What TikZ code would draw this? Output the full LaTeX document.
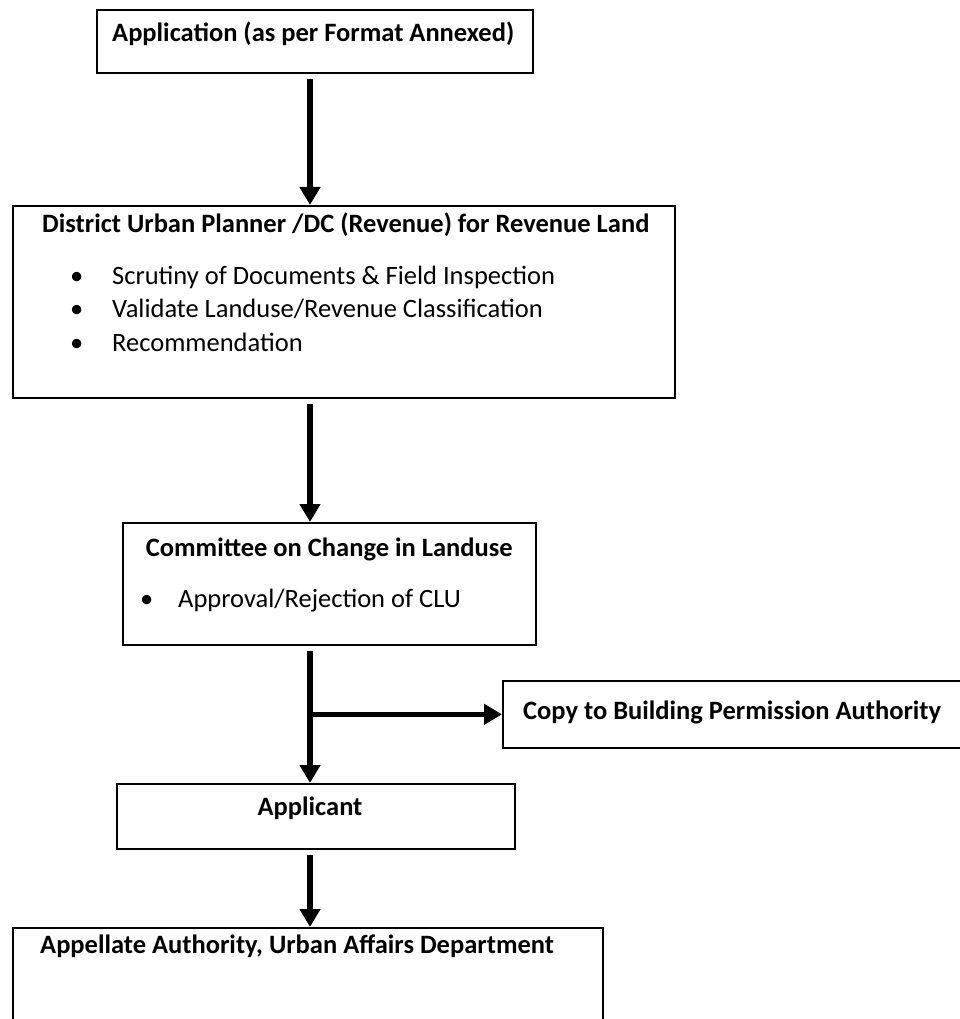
\documentclass[tikz,border=0pt]{standalone}
\usepackage{fontspec}
\setmainfont{Carlito}
\usetikzlibrary{arrows.meta,positioning}
\tikzset{
  box/.style={draw, line width=1.6pt, inner sep=0pt, anchor=north west},
  head/.style={font=\fontsize{26.5}{31}\selectfont\bfseries, inner sep=0pt},
  item/.style={font=\fontsize{26.5}{31}\selectfont, inner sep=0pt, anchor=west},
  flow/.style={line width=5.5pt, -{Triangle[length=18pt,width=20pt]}, shorten <=5pt}
}
\begin{document}
\begin{tikzpicture}[x=1pt, y=-1pt]
  \useasboundingbox (0,0) rectangle (960,1019);
  \fill[white] (0,0) rectangle (960,1019);
  \clip (0,0) rectangle (960,1019);
  \coordinate (ax) at (310,0);% common axis of the down arrows
  % the boxes
  \node[box, minimum width=436pt, minimum height=63pt] (app) at (96,9) {};
  \node[box, minimum width=662pt, minimum height=192pt] (dup) at (12,205) {};
  \node[box, minimum width=413pt, minimum height=122pt] (clu) at (122,522) {};
  \node[box, minimum width=480pt, minimum height=67pt] (copy) at (502,680) {};
  \node[box, minimum width=398pt, minimum height=65pt] (appl) at (116,783) {};
  \node[box, minimum width=590pt, minimum height=120pt] (appe) at (12,927) {};
  % the texts
  \node[head, anchor=west] (apptext) at (112,34) {Application (as per Format Annexed)};
  \node[head, anchor=west] (duptext) at (42,225) {District Urban Planner /DC (Revenue) for Revenue Land};
  \node[item] (dup1) at (70,277) {\makebox[42pt][l]{•}Scrutiny of Documents \& Field Inspection};
  \node[item] (dup2) at (70,309) {\makebox[42pt][l]{•}Validate Landuse/Revenue Classification};
  \node[item] (dup3) at (70,342) {\makebox[42pt][l]{•}Recommendation};
  \node[head] (clutext) at (clu.center |- 0,549) {Committee on Change in Landuse};
  \node[item] (clu1) at (140,601) {\makebox[38pt][l]{•}Approval/Rejection of CLU};
  \node[head, anchor=west] (copytext) at (523,712) {Copy to Building Permission Authority};
  \node[head] (appltext) at (310,808) {Applicant};
  \node[head, anchor=west] (appetext) at (40,946) {Appellate Authority, Urban Affairs Department};
  % the arrows
  \draw[flow] (app.south -| ax) -- (dup.north -| ax);
  \draw[flow] (dup.south -| ax) -- (clu.north -| ax);
  \draw[flow] (clu.south -| ax) -- (appl.north -| ax);
  \draw[flow, shorten <=0pt] (ax |- copy.west) ++(3,0) -- (copy.west);
  \draw[flow] (appl.south -| ax) -- (appe.north -| ax);
\end{tikzpicture}
\end{document}
